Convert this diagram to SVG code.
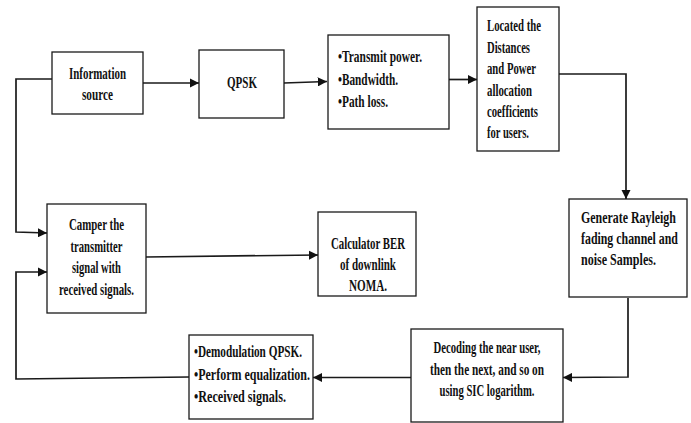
<svg xmlns="http://www.w3.org/2000/svg" width="691" height="423" viewBox="0 0 691 423">
<style>
.box{fill:#fff;stroke:#1a1a1a;stroke-width:1.3}
.t{font-family:"Liberation Serif","Times New Roman",serif;font-weight:bold;font-size:16px;fill:#111}
.c{text-anchor:middle}
.ln{fill:none;stroke:#1a1a1a;stroke-width:1.7}
</style>
<defs>
<marker id="ah" viewBox="0 0 10 10" refX="10" refY="5" markerWidth="5.5" markerHeight="5.5" orient="auto" markerUnits="strokeWidth">
<path d="M0,0 L10,5 L0,10 z" fill="#111"/>
</marker>
</defs>
<rect width="691" height="423" fill="#fff"/>
<g id="connectors">
<path class="ln" d="M143,83 L199,83" marker-end="url(#ah)"/>
<path class="ln" d="M284,83 L327,81.5" marker-end="url(#ah)"/>
<path class="ln" d="M449,79.5 L477,79.5" marker-end="url(#ah)"/>
<path class="ln" d="M559,74 L626,74 L626,199" marker-end="url(#ah)"/>
<path class="ln" d="M628,298 L628,377 L563,377.5" marker-end="url(#ah)"/>
<path class="ln" d="M411,377.5 L313,377.5" marker-end="url(#ah)"/>
<path class="ln" d="M189,377 L16,379 L16,272 L47,272" marker-end="url(#ah)"/>
<path class="ln" d="M52,79 L16,79 L16,232 L47,233" marker-end="url(#ah)"/>
<path class="ln" d="M146,257 L318,255" marker-end="url(#ah)"/>
</g>
<g id="info-source">
<rect class="box" x="52" y="52" width="91" height="62"/>
<text class="t c" x="97.5" y="79" textLength="57" lengthAdjust="spacingAndGlyphs">Information</text>
<text class="t c" x="97.5" y="100" textLength="31" lengthAdjust="spacingAndGlyphs">source</text>
</g>
<g id="qpsk">
<rect class="box" x="199" y="50" width="85" height="68"/>
<text class="t c" x="242" y="88" textLength="30" lengthAdjust="spacingAndGlyphs">QPSK</text>
</g>
<g id="params">
<rect class="box" x="328" y="35" width="121" height="94"/>
<text class="t" x="338" y="62" textLength="84" lengthAdjust="spacingAndGlyphs">•Transmit power.</text>
<text class="t" x="338" y="85" textLength="60" lengthAdjust="spacingAndGlyphs">•Bandwidth.</text>
<text class="t" x="338" y="107" textLength="50" lengthAdjust="spacingAndGlyphs">•Path loss.</text>
</g>
<g id="located">
<rect class="box" x="477" y="7" width="82" height="144"/>
<text class="t" x="487" y="31" textLength="54" lengthAdjust="spacingAndGlyphs">Located the</text>
<text class="t" x="487" y="53" textLength="43" lengthAdjust="spacingAndGlyphs">Distances</text>
<text class="t" x="487" y="74" textLength="49" lengthAdjust="spacingAndGlyphs">and Power</text>
<text class="t" x="487" y="96" textLength="45" lengthAdjust="spacingAndGlyphs">allocation</text>
<text class="t" x="487" y="117" textLength="51" lengthAdjust="spacingAndGlyphs">coefficients</text>
<text class="t" x="487" y="138" textLength="42" lengthAdjust="spacingAndGlyphs">for users.</text>
</g>
<g id="generate">
<rect class="box" x="569" y="199" width="118" height="98"/>
<text class="t" transform="translate(581,223) scale(0.745,1)">Generate Rayleigh</text>
<text class="t" transform="translate(581,244) scale(0.742,1)">fading channel and</text>
<text class="t" transform="translate(581,265) scale(0.753,1)">noise Samples.</text>
</g>
<g id="decoding">
<rect class="box" x="411" y="329" width="152" height="93"/>
<text class="t c" x="487" y="353" textLength="107" lengthAdjust="spacingAndGlyphs">Decoding the near user,</text>
<text class="t c" x="487" y="375" textLength="114" lengthAdjust="spacingAndGlyphs">then the next, and so on</text>
<text class="t c" x="487" y="396" textLength="95" lengthAdjust="spacingAndGlyphs">using SIC logarithm.</text>
</g>
<g id="demod">
<rect class="box" x="189" y="335" width="124" height="84"/>
<text class="t" x="194" y="357" textLength="108" lengthAdjust="spacingAndGlyphs">•Demodulation QPSK.</text>
<text class="t" x="194" y="380" textLength="116" lengthAdjust="spacingAndGlyphs">•Perform equalization.</text>
<text class="t" x="194" y="402" textLength="92" lengthAdjust="spacingAndGlyphs">•Received signals.</text>
</g>
<g id="compare">
<rect class="box" x="47" y="204" width="99" height="109"/>
<text class="t c" x="96.5" y="230" textLength="55" lengthAdjust="spacingAndGlyphs">Camper the</text>
<text class="t c" x="96.5" y="252" textLength="52" lengthAdjust="spacingAndGlyphs">transmitter</text>
<text class="t c" x="96.5" y="273" textLength="49" lengthAdjust="spacingAndGlyphs">signal with</text>
<text class="t c" x="96.5" y="295" textLength="75" lengthAdjust="spacingAndGlyphs">received signals.</text>
</g>
<g id="ber">
<rect class="box" x="318" y="212" width="98" height="84"/>
<text class="t c" x="368" y="249" textLength="74" lengthAdjust="spacingAndGlyphs">Calculator BER</text>
<text class="t c" x="368" y="270" textLength="56" lengthAdjust="spacingAndGlyphs">of downlink</text>
<text class="t c" x="368" y="291" textLength="38" lengthAdjust="spacingAndGlyphs">NOMA.</text>
</g>
</svg>
